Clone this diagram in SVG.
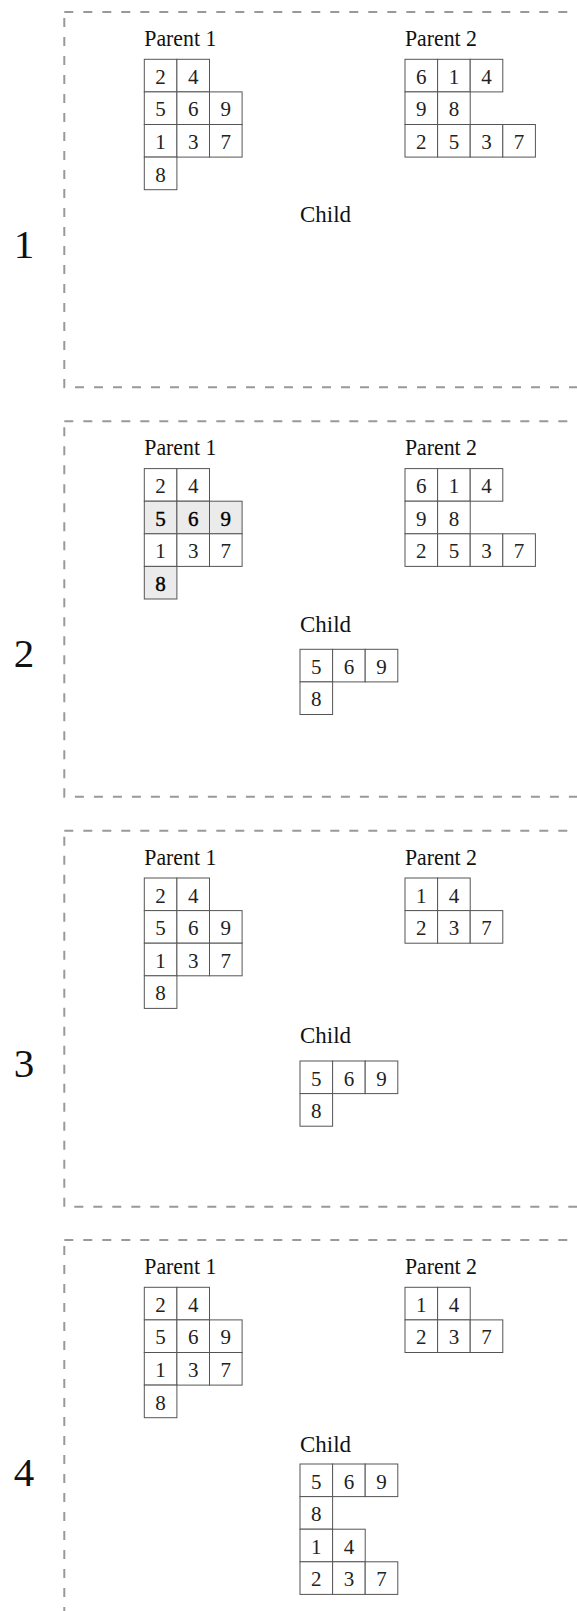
<svg xmlns="http://www.w3.org/2000/svg" width="577" height="1611" viewBox="0 0 577 1611">
<style>
.frame{fill:none;stroke:#999;stroke-width:2;stroke-dasharray:9 10}
.cell rect{fill:#fff;stroke:#555;stroke-width:1}
.cell rect.hl{fill:#ebebeb}
.cell text{font-family:"Liberation Serif",serif;font-size:21px;text-anchor:middle;fill:#222}
.cell text.hl{fill:#000;stroke:#000;stroke-width:0.4}
.lbl{font-family:"Liberation Serif",serif;font-size:24px;fill:#111}
.num{font-family:"Liberation Serif",serif;font-size:41px;fill:#111;text-anchor:middle}
</style>
<rect width="577" height="1611" fill="#fff"/>

<g id="frames">
<path class="frame" d="M64.3,12 H577"/><path class="frame" d="M64.3,18 V387.3 H577"/>
<path class="frame" d="M64.3,421.3 H577"/><path class="frame" d="M64.3,427.3 V796.7 H577"/>
<path class="frame" d="M64.3,830.7 H577"/><path class="frame" d="M64.3,836.7 V1206.7 H577"/>
<path class="frame" d="M64.3,1240 H577"/><path class="frame" d="M64.3,1246 V1611"/>
</g>

<g id="numbers">
<text class="num" x="24" y="258">1</text>
<text class="num" x="24" y="667.3">2</text>
<text class="num" x="24" y="1076.7">3</text>
<text class="num" x="24" y="1486">4</text>
</g>

<!-- Panel 1 -->
<g id="panel1">
<text class="lbl" x="144.3" y="46" textLength="72" lengthAdjust="spacingAndGlyphs">Parent 1</text>
<text class="lbl" x="405" y="46" textLength="72" lengthAdjust="spacingAndGlyphs">Parent 2</text>
<text class="lbl" x="300" y="222.4" textLength="51" lengthAdjust="spacingAndGlyphs">Child</text>
<g id="p1-parent1" class="cell" transform="translate(144.3,59.3)">
<rect x="0" y="0" width="32.6" height="32.6"/><text x="16.3" y="24.5">2</text>
<rect x="32.6" y="0" width="32.6" height="32.6"/><text x="48.9" y="24.5">4</text>
<rect x="0" y="32.6" width="32.6" height="32.6"/><text x="16.3" y="57.1">5</text>
<rect x="32.6" y="32.6" width="32.6" height="32.6"/><text x="48.9" y="57.1">6</text>
<rect x="65.2" y="32.6" width="32.6" height="32.6"/><text x="81.5" y="57.1">9</text>
<rect x="0" y="65.2" width="32.6" height="32.6"/><text x="16.3" y="89.7">1</text>
<rect x="32.6" y="65.2" width="32.6" height="32.6"/><text x="48.9" y="89.7">3</text>
<rect x="65.2" y="65.2" width="32.6" height="32.6"/><text x="81.5" y="89.7">7</text>
<rect x="0" y="97.8" width="32.6" height="32.6"/><text x="16.3" y="122.3">8</text>
</g>
<g id="p1-parent2" class="cell" transform="translate(405,59.3)">
<rect x="0" y="0" width="32.6" height="32.6"/><text x="16.3" y="24.5">6</text>
<rect x="32.6" y="0" width="32.6" height="32.6"/><text x="48.9" y="24.5">1</text>
<rect x="65.2" y="0" width="32.6" height="32.6"/><text x="81.5" y="24.5">4</text>
<rect x="0" y="32.6" width="32.6" height="32.6"/><text x="16.3" y="57.1">9</text>
<rect x="32.6" y="32.6" width="32.6" height="32.6"/><text x="48.9" y="57.1">8</text>
<rect x="0" y="65.2" width="32.6" height="32.6"/><text x="16.3" y="89.7">2</text>
<rect x="32.6" y="65.2" width="32.6" height="32.6"/><text x="48.9" y="89.7">5</text>
<rect x="65.2" y="65.2" width="32.6" height="32.6"/><text x="81.5" y="89.7">3</text>
<rect x="97.8" y="65.2" width="32.6" height="32.6"/><text x="114.1" y="89.7">7</text>
</g>
</g>

<!-- Panel 2 -->
<g id="panel2">
<text class="lbl" x="144.3" y="455.3" textLength="72" lengthAdjust="spacingAndGlyphs">Parent 1</text>
<text class="lbl" x="405" y="455.3" textLength="72" lengthAdjust="spacingAndGlyphs">Parent 2</text>
<text class="lbl" x="300" y="631.7" textLength="51" lengthAdjust="spacingAndGlyphs">Child</text>
<g id="p2-parent1" class="cell" transform="translate(144.3,468.6)">
<rect x="0" y="0" width="32.6" height="32.6"/><text x="16.3" y="24.5">2</text>
<rect x="32.6" y="0" width="32.6" height="32.6"/><text x="48.9" y="24.5">4</text>
<rect class="hl" x="0" y="32.6" width="32.6" height="32.6"/><text class="hl" x="16.3" y="57.1">5</text>
<rect class="hl" x="32.6" y="32.6" width="32.6" height="32.6"/><text class="hl" x="48.9" y="57.1">6</text>
<rect class="hl" x="65.2" y="32.6" width="32.6" height="32.6"/><text class="hl" x="81.5" y="57.1">9</text>
<rect x="0" y="65.2" width="32.6" height="32.6"/><text x="16.3" y="89.7">1</text>
<rect x="32.6" y="65.2" width="32.6" height="32.6"/><text x="48.9" y="89.7">3</text>
<rect x="65.2" y="65.2" width="32.6" height="32.6"/><text x="81.5" y="89.7">7</text>
<rect class="hl" x="0" y="97.8" width="32.6" height="32.6"/><text class="hl" x="16.3" y="122.3">8</text>
</g>
<g id="p2-parent2" class="cell" transform="translate(405,468.6)">
<rect x="0" y="0" width="32.6" height="32.6"/><text x="16.3" y="24.5">6</text>
<rect x="32.6" y="0" width="32.6" height="32.6"/><text x="48.9" y="24.5">1</text>
<rect x="65.2" y="0" width="32.6" height="32.6"/><text x="81.5" y="24.5">4</text>
<rect x="0" y="32.6" width="32.6" height="32.6"/><text x="16.3" y="57.1">9</text>
<rect x="32.6" y="32.6" width="32.6" height="32.6"/><text x="48.9" y="57.1">8</text>
<rect x="0" y="65.2" width="32.6" height="32.6"/><text x="16.3" y="89.7">2</text>
<rect x="32.6" y="65.2" width="32.6" height="32.6"/><text x="48.9" y="89.7">5</text>
<rect x="65.2" y="65.2" width="32.6" height="32.6"/><text x="81.5" y="89.7">3</text>
<rect x="97.8" y="65.2" width="32.6" height="32.6"/><text x="114.1" y="89.7">7</text>
</g>
<g id="p2-child" class="cell" transform="translate(300,649.3)">
<rect x="0" y="0" width="32.6" height="32.6"/><text x="16.3" y="24.5">5</text>
<rect x="32.6" y="0" width="32.6" height="32.6"/><text x="48.9" y="24.5">6</text>
<rect x="65.2" y="0" width="32.6" height="32.6"/><text x="81.5" y="24.5">9</text>
<rect x="0" y="32.6" width="32.6" height="32.6"/><text x="16.3" y="57.1">8</text>
</g>
</g>

<!-- Panel 3 -->
<g id="panel3">
<text class="lbl" x="144.3" y="864.7" textLength="72" lengthAdjust="spacingAndGlyphs">Parent 1</text>
<text class="lbl" x="405" y="864.7" textLength="72" lengthAdjust="spacingAndGlyphs">Parent 2</text>
<text class="lbl" x="300" y="1043" textLength="51" lengthAdjust="spacingAndGlyphs">Child</text>
<g id="p3-parent1" class="cell" transform="translate(144.3,878)">
<rect x="0" y="0" width="32.6" height="32.6"/><text x="16.3" y="24.5">2</text>
<rect x="32.6" y="0" width="32.6" height="32.6"/><text x="48.9" y="24.5">4</text>
<rect x="0" y="32.6" width="32.6" height="32.6"/><text x="16.3" y="57.1">5</text>
<rect x="32.6" y="32.6" width="32.6" height="32.6"/><text x="48.9" y="57.1">6</text>
<rect x="65.2" y="32.6" width="32.6" height="32.6"/><text x="81.5" y="57.1">9</text>
<rect x="0" y="65.2" width="32.6" height="32.6"/><text x="16.3" y="89.7">1</text>
<rect x="32.6" y="65.2" width="32.6" height="32.6"/><text x="48.9" y="89.7">3</text>
<rect x="65.2" y="65.2" width="32.6" height="32.6"/><text x="81.5" y="89.7">7</text>
<rect x="0" y="97.8" width="32.6" height="32.6"/><text x="16.3" y="122.3">8</text>
</g>
<g id="p3-parent2" class="cell" transform="translate(405,878)">
<rect x="0" y="0" width="32.6" height="32.6"/><text x="16.3" y="24.5">1</text>
<rect x="32.6" y="0" width="32.6" height="32.6"/><text x="48.9" y="24.5">4</text>
<rect x="0" y="32.6" width="32.6" height="32.6"/><text x="16.3" y="57.1">2</text>
<rect x="32.6" y="32.6" width="32.6" height="32.6"/><text x="48.9" y="57.1">3</text>
<rect x="65.2" y="32.6" width="32.6" height="32.6"/><text x="81.5" y="57.1">7</text>
</g>
<g id="p3-child" class="cell" transform="translate(300,1061)">
<rect x="0" y="0" width="32.6" height="32.6"/><text x="16.3" y="24.5">5</text>
<rect x="32.6" y="0" width="32.6" height="32.6"/><text x="48.9" y="24.5">6</text>
<rect x="65.2" y="0" width="32.6" height="32.6"/><text x="81.5" y="24.5">9</text>
<rect x="0" y="32.6" width="32.6" height="32.6"/><text x="16.3" y="57.1">8</text>
</g>
</g>

<!-- Panel 4 -->
<g id="panel4">
<text class="lbl" x="144.3" y="1274" textLength="72" lengthAdjust="spacingAndGlyphs">Parent 1</text>
<text class="lbl" x="405" y="1274" textLength="72" lengthAdjust="spacingAndGlyphs">Parent 2</text>
<text class="lbl" x="300" y="1452.3" textLength="51" lengthAdjust="spacingAndGlyphs">Child</text>
<g id="p4-parent1" class="cell" transform="translate(144.3,1287.3)">
<rect x="0" y="0" width="32.6" height="32.6"/><text x="16.3" y="24.5">2</text>
<rect x="32.6" y="0" width="32.6" height="32.6"/><text x="48.9" y="24.5">4</text>
<rect x="0" y="32.6" width="32.6" height="32.6"/><text x="16.3" y="57.1">5</text>
<rect x="32.6" y="32.6" width="32.6" height="32.6"/><text x="48.9" y="57.1">6</text>
<rect x="65.2" y="32.6" width="32.6" height="32.6"/><text x="81.5" y="57.1">9</text>
<rect x="0" y="65.2" width="32.6" height="32.6"/><text x="16.3" y="89.7">1</text>
<rect x="32.6" y="65.2" width="32.6" height="32.6"/><text x="48.9" y="89.7">3</text>
<rect x="65.2" y="65.2" width="32.6" height="32.6"/><text x="81.5" y="89.7">7</text>
<rect x="0" y="97.8" width="32.6" height="32.6"/><text x="16.3" y="122.3">8</text>
</g>
<g id="p4-parent2" class="cell" transform="translate(405,1287.3)">
<rect x="0" y="0" width="32.6" height="32.6"/><text x="16.3" y="24.5">1</text>
<rect x="32.6" y="0" width="32.6" height="32.6"/><text x="48.9" y="24.5">4</text>
<rect x="0" y="32.6" width="32.6" height="32.6"/><text x="16.3" y="57.1">2</text>
<rect x="32.6" y="32.6" width="32.6" height="32.6"/><text x="48.9" y="57.1">3</text>
<rect x="65.2" y="32.6" width="32.6" height="32.6"/><text x="81.5" y="57.1">7</text>
</g>
<g id="p4-child" class="cell" transform="translate(300,1464)">
<rect x="0" y="0" width="32.6" height="32.6"/><text x="16.3" y="24.5">5</text>
<rect x="32.6" y="0" width="32.6" height="32.6"/><text x="48.9" y="24.5">6</text>
<rect x="65.2" y="0" width="32.6" height="32.6"/><text x="81.5" y="24.5">9</text>
<rect x="0" y="32.6" width="32.6" height="32.6"/><text x="16.3" y="57.1">8</text>
<rect x="0" y="65.2" width="32.6" height="32.6"/><text x="16.3" y="89.7">1</text>
<rect x="32.6" y="65.2" width="32.6" height="32.6"/><text x="48.9" y="89.7">4</text>
<rect x="0" y="97.8" width="32.6" height="32.6"/><text x="16.3" y="122.3">2</text>
<rect x="32.6" y="97.8" width="32.6" height="32.6"/><text x="48.9" y="122.3">3</text>
<rect x="65.2" y="97.8" width="32.6" height="32.6"/><text x="81.5" y="122.3">7</text>
</g>
</g>
</svg>
